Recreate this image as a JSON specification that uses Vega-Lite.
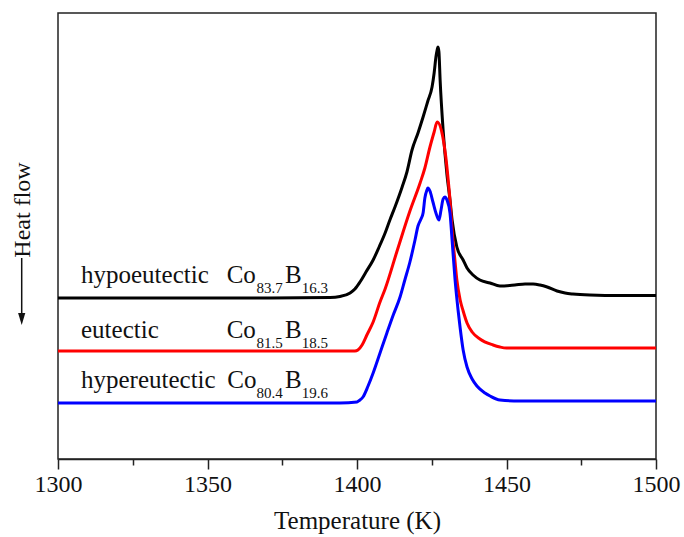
{
  "$schema": "https://vega.github.io/schema/vega-lite/v6.json",
  "width": 598,
  "height": 446,
  "autosize": {"type": "none"},
  "padding": {"left": 58, "top": 13, "right": 28, "bottom": 78},
  "background": "white",
  "config": {
    "view": {"stroke": "#222222", "strokeWidth": 1.5},
    "font": "Liberation Serif"
  },
  "datasets": {
    "curves": [
      {"series": "hypoeutectic", "T": 1300, "v": 161},
      {"series": "hypoeutectic", "T": 1330.8, "v": 161},
      {"series": "hypoeutectic", "T": 1364.2, "v": 161},
      {"series": "hypoeutectic", "T": 1391, "v": 161.5},
      {"series": "hypoeutectic", "T": 1394.3, "v": 162.5},
      {"series": "hypoeutectic", "T": 1397.7, "v": 166},
      {"series": "hypoeutectic", "T": 1399.3, "v": 170},
      {"series": "hypoeutectic", "T": 1401, "v": 177},
      {"series": "hypoeutectic", "T": 1403, "v": 187},
      {"series": "hypoeutectic", "T": 1405.4, "v": 199},
      {"series": "hypoeutectic", "T": 1407.4, "v": 212},
      {"series": "hypoeutectic", "T": 1409.4, "v": 226},
      {"series": "hypoeutectic", "T": 1411, "v": 239},
      {"series": "hypoeutectic", "T": 1412.7, "v": 252},
      {"series": "hypoeutectic", "T": 1415.1, "v": 272},
      {"series": "hypoeutectic", "T": 1416.7, "v": 287},
      {"series": "hypoeutectic", "T": 1418.4, "v": 309},
      {"series": "hypoeutectic", "T": 1420.4, "v": 326},
      {"series": "hypoeutectic", "T": 1422.1, "v": 342},
      {"series": "hypoeutectic", "T": 1423.7, "v": 358},
      {"series": "hypoeutectic", "T": 1425.1, "v": 372},
      {"series": "hypoeutectic", "T": 1425.8, "v": 386},
      {"series": "hypoeutectic", "T": 1426.4, "v": 402},
      {"series": "hypoeutectic", "T": 1426.8, "v": 409},
      {"series": "hypoeutectic", "T": 1427.1, "v": 412},
      {"series": "hypoeutectic", "T": 1427.4, "v": 407},
      {"series": "hypoeutectic", "T": 1427.8, "v": 379},
      {"series": "hypoeutectic", "T": 1428.8, "v": 329},
      {"series": "hypoeutectic", "T": 1430.1, "v": 284},
      {"series": "hypoeutectic", "T": 1431.1, "v": 259},
      {"series": "hypoeutectic", "T": 1431.8, "v": 239},
      {"series": "hypoeutectic", "T": 1433.4, "v": 212},
      {"series": "hypoeutectic", "T": 1435.5, "v": 199},
      {"series": "hypoeutectic", "T": 1436.8, "v": 191},
      {"series": "hypoeutectic", "T": 1438.8, "v": 184},
      {"series": "hypoeutectic", "T": 1441.1, "v": 179},
      {"series": "hypoeutectic", "T": 1444.5, "v": 176},
      {"series": "hypoeutectic", "T": 1447.8, "v": 173},
      {"series": "hypoeutectic", "T": 1452.8, "v": 174},
      {"series": "hypoeutectic", "T": 1456.2, "v": 175},
      {"series": "hypoeutectic", "T": 1458.9, "v": 175},
      {"series": "hypoeutectic", "T": 1461.2, "v": 174},
      {"series": "hypoeutectic", "T": 1463.6, "v": 172},
      {"series": "hypoeutectic", "T": 1466.9, "v": 168},
      {"series": "hypoeutectic", "T": 1469.6, "v": 166},
      {"series": "hypoeutectic", "T": 1472.2, "v": 165},
      {"series": "hypoeutectic", "T": 1477.9, "v": 164},
      {"series": "hypoeutectic", "T": 1488, "v": 163.5},
      {"series": "hypoeutectic", "T": 1500, "v": 163.5},

      {"series": "eutectic", "T": 1300, "v": 108},
      {"series": "eutectic", "T": 1347.5, "v": 108},
      {"series": "eutectic", "T": 1394.3, "v": 108},
      {"series": "eutectic", "T": 1399.3, "v": 108},
      {"series": "eutectic", "T": 1400.3, "v": 109},
      {"series": "eutectic", "T": 1401.7, "v": 114},
      {"series": "eutectic", "T": 1403.3, "v": 124},
      {"series": "eutectic", "T": 1405.4, "v": 137},
      {"series": "eutectic", "T": 1407.7, "v": 157},
      {"series": "eutectic", "T": 1409.4, "v": 170},
      {"series": "eutectic", "T": 1413.4, "v": 208},
      {"series": "eutectic", "T": 1417.7, "v": 248},
      {"series": "eutectic", "T": 1421.1, "v": 276},
      {"series": "eutectic", "T": 1422.7, "v": 291},
      {"series": "eutectic", "T": 1424.4, "v": 312},
      {"series": "eutectic", "T": 1425.8, "v": 327},
      {"series": "eutectic", "T": 1426.8, "v": 337},
      {"series": "eutectic", "T": 1428.7, "v": 322},
      {"series": "eutectic", "T": 1429.7, "v": 302},
      {"series": "eutectic", "T": 1430.4, "v": 282},
      {"series": "eutectic", "T": 1431.1, "v": 259},
      {"series": "eutectic", "T": 1431.8, "v": 229},
      {"series": "eutectic", "T": 1432.8, "v": 197},
      {"series": "eutectic", "T": 1433.4, "v": 179},
      {"series": "eutectic", "T": 1434.5, "v": 159},
      {"series": "eutectic", "T": 1435.5, "v": 148},
      {"series": "eutectic", "T": 1436.8, "v": 136},
      {"series": "eutectic", "T": 1438.5, "v": 127},
      {"series": "eutectic", "T": 1441.1, "v": 120},
      {"series": "eutectic", "T": 1445.5, "v": 114},
      {"series": "eutectic", "T": 1447.8, "v": 112},
      {"series": "eutectic", "T": 1450, "v": 111},
      {"series": "eutectic", "T": 1467.9, "v": 111},
      {"series": "eutectic", "T": 1500, "v": 111},

      {"series": "hypereutectic", "T": 1300, "v": 56},
      {"series": "hypereutectic", "T": 1347.5, "v": 56},
      {"series": "hypereutectic", "T": 1394.3, "v": 56},
      {"series": "hypereutectic", "T": 1400, "v": 57},
      {"series": "hypereutectic", "T": 1401, "v": 59},
      {"series": "hypereutectic", "T": 1402, "v": 62},
      {"series": "hypereutectic", "T": 1403.7, "v": 73},
      {"series": "hypereutectic", "T": 1405.4, "v": 86},
      {"series": "hypereutectic", "T": 1407.7, "v": 106},
      {"series": "hypereutectic", "T": 1410, "v": 126},
      {"series": "hypereutectic", "T": 1412, "v": 143},
      {"series": "hypereutectic", "T": 1414.4, "v": 162},
      {"series": "hypereutectic", "T": 1416, "v": 179},
      {"series": "hypereutectic", "T": 1417.7, "v": 197},
      {"series": "hypereutectic", "T": 1419.4, "v": 219},
      {"series": "hypereutectic", "T": 1420.4, "v": 233},
      {"series": "hypereutectic", "T": 1421.4, "v": 240},
      {"series": "hypereutectic", "T": 1422.1, "v": 246},
      {"series": "hypereutectic", "T": 1422.7, "v": 261},
      {"series": "hypereutectic", "T": 1423.4, "v": 269},
      {"series": "hypereutectic", "T": 1423.7, "v": 271},
      {"series": "hypereutectic", "T": 1424.4, "v": 268},
      {"series": "hypereutectic", "T": 1425.4, "v": 257},
      {"series": "hypereutectic", "T": 1426.4, "v": 246},
      {"series": "hypereutectic", "T": 1427.4, "v": 239},
      {"series": "hypereutectic", "T": 1428.1, "v": 249},
      {"series": "hypereutectic", "T": 1428.8, "v": 260},
      {"series": "hypereutectic", "T": 1429.4, "v": 262},
      {"series": "hypereutectic", "T": 1430.1, "v": 259},
      {"series": "hypereutectic", "T": 1431.1, "v": 246},
      {"series": "hypereutectic", "T": 1431.8, "v": 219},
      {"series": "hypereutectic", "T": 1432.8, "v": 179},
      {"series": "hypereutectic", "T": 1433.8, "v": 149},
      {"series": "hypereutectic", "T": 1434.5, "v": 131},
      {"series": "hypereutectic", "T": 1435.5, "v": 109},
      {"series": "hypereutectic", "T": 1436.8, "v": 92},
      {"series": "hypereutectic", "T": 1438.5, "v": 80},
      {"series": "hypereutectic", "T": 1440.1, "v": 73},
      {"series": "hypereutectic", "T": 1442.8, "v": 66},
      {"series": "hypereutectic", "T": 1444.5, "v": 63},
      {"series": "hypereutectic", "T": 1447.8, "v": 59},
      {"series": "hypereutectic", "T": 1454.5, "v": 58},
      {"series": "hypereutectic", "T": 1500, "v": 58}
    ],
    "labelsMain": [
      {"text": "hypoeutectic", "T": 1307.7, "v": 175.7},
      {"text": "Co", "T": 1356.4, "v": 175.7},
      {"text": "B", "T": 1375.9, "v": 175.7},
      {"text": "eutectic", "T": 1307.7, "v": 120.7},
      {"text": "Co", "T": 1356.4, "v": 120.7},
      {"text": "B", "T": 1375.9, "v": 120.7},
      {"text": "hypereutectic", "T": 1307.7, "v": 70.7},
      {"text": "Co", "T": 1356.6, "v": 70.7},
      {"text": "B", "T": 1375.9, "v": 70.7}
    ],
    "labelsSub": [
      {"text": "83.7", "T": 1366.4, "v": 166.3},
      {"text": "16.3", "T": 1381.5, "v": 166.3},
      {"text": "81.5", "T": 1366.4, "v": 111.5},
      {"text": "18.5", "T": 1381.5, "v": 111.5},
      {"text": "80.4", "T": 1366.4, "v": 61.5},
      {"text": "19.6", "T": 1381.5, "v": 61.5}
    ],
    "heat": [
      {"text": "Heat flow", "T": 1290.6, "v": 249}
    ],
    "arrow": [
      {"T": 1287.86, "v1": 201, "v2": 138, "tip": 140}
    ]
  },
  "encoding": {
    "x": {
      "field": "T",
      "type": "quantitative",
      "scale": {"domain": [1300, 1500], "nice": false, "zero": false},
      "axis": {
        "title": "Temperature (K)",
        "titleFont": "Liberation Serif",
        "titleFontSize": 25,
        "titleFontWeight": "normal",
        "titleColor": "#111111",
        "titlePadding": 12,
        "format": "d",
        "labelFont": "Liberation Serif",
        "labelFontSize": 24,
        "labelColor": "#111111",
        "labelPadding": 3,
        "labelFlush": false,
        "labelOverlap": false,
        "values": [1300, 1325, 1350, 1375, 1400, 1425, 1450, 1475, 1500],
        "labelExpr": "datum.value % 50 === 0 ? datum.label : ''",
        "tickSize": {"condition": {"test": "datum.value % 50 === 0", "value": 10}, "value": 6},
        "tickColor": "#222222",
        "tickWidth": 1.5,
        "domainColor": "#222222",
        "domainWidth": 1.5,
        "grid": false
      }
    }
  },
  "layer": [
    {
      "data": {"name": "curves"},
      "mark": {"type": "line", "strokeWidth": 3, "interpolate": "monotone"},
      "encoding": {
        "y": {
          "field": "v",
          "type": "quantitative",
          "scale": {"domain": [0, 446], "nice": false, "zero": false},
          "axis": null
        },
        "color": {
          "field": "series",
          "type": "nominal",
          "scale": {"domain": ["hypoeutectic", "eutectic", "hypereutectic"], "range": ["#000000", "#ff0000", "#0000ff"]},
          "legend": null
        }
      }
    },
    {
      "data": {"name": "labelsMain"},
      "mark": {"type": "text", "align": "left", "baseline": "alphabetic", "fontSize": 25, "font": "Liberation Serif", "color": "#111111"},
      "encoding": {
        "y": {"field": "v", "type": "quantitative"},
        "text": {"field": "text"}
      }
    },
    {
      "data": {"name": "labelsSub"},
      "mark": {"type": "text", "align": "left", "baseline": "alphabetic", "fontSize": 15, "font": "Liberation Serif", "color": "#111111"},
      "encoding": {
        "y": {"field": "v", "type": "quantitative"},
        "text": {"field": "text"}
      }
    },
    {
      "data": {"name": "heat"},
      "mark": {"type": "text", "align": "center", "baseline": "alphabetic", "angle": 270, "fontSize": 24, "font": "Liberation Serif", "color": "#111111"},
      "encoding": {
        "y": {"field": "v", "type": "quantitative"},
        "text": {"field": "text"}
      }
    },
    {
      "data": {"name": "arrow"},
      "mark": {"type": "rule", "strokeWidth": 1.5, "color": "#111111"},
      "encoding": {
        "y": {"field": "v1", "type": "quantitative"},
        "y2": {"field": "v2"}
      }
    },
    {
      "data": {"name": "arrow"},
      "mark": {"type": "point", "shape": "M-0.6,-1L0.6,-1L0,1Z", "size": 144, "filled": true, "color": "#111111", "opacity": 1},
      "encoding": {
        "y": {"field": "tip", "type": "quantitative"}
      }
    }
  ]
}
